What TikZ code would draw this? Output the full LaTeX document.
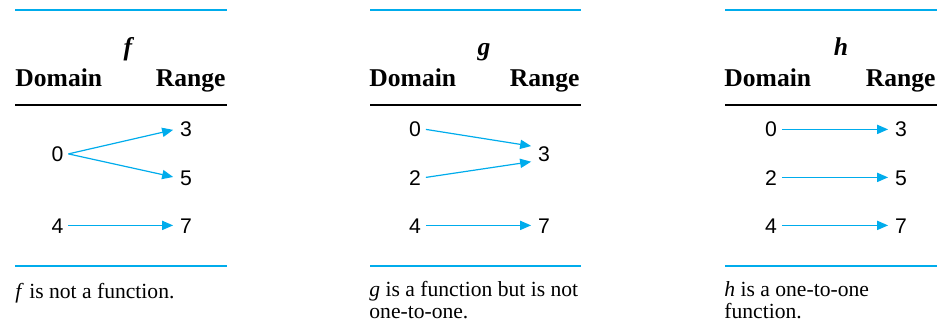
\documentclass[tikz,border=0pt]{standalone}
\usepackage{fontspec}
\setmainfont{Liberation Serif}
\newfontfamily\numfont{Liberation Sans}
\usetikzlibrary{arrows.meta}
\definecolor{rule}{RGB}{0,172,236}
\begin{document}
\begin{tikzpicture}[x=0.5pt,y=-0.5pt,
  blueline/.style={draw=rule,line width=1pt},
  blackline/.style={draw=black,line width=0.75pt},
  head/.style={font=\fontsize{12.8}{14}\selectfont\bfseries,inner sep=0pt},
  title/.style={font=\fontsize{12.8}{14}\selectfont\bfseries\itshape,inner sep=0pt,anchor=base},
  num/.style={font=\numfont\fontsize{10.6}{12}\selectfont,inner sep=0pt,text height=7.6pt,text depth=0pt,anchor=base,outer sep=2.5pt},
  caption/.style={font=\fontsize{10.8}{10}\selectfont,inner sep=0pt,anchor=base west,align=left},
  map/.style={draw=rule,line width=0.6pt,-{Triangle[length=5.5pt,width=4.6pt]},shorten >=1pt}
]
\useasboundingbox (0,0) rectangle (948,326);

% ---------- panel f ----------
\draw[blueline] (15,10) coordinate (fA) -- (227,10) coordinate (fB);
\node[title] (ft) at (128,56) {f};
\node[head,anchor=base west] (fd) at (15,87) {Domain};
\node[head,anchor=base east] (fr) at (226,87) {Range};
\draw[blackline] (15,105) coordinate (fC) -- (227,105) coordinate (fD);
\node[num] (f0) at (57.5,161.5) {0};
\node[num] (f4) at (57.5,233) {4};
\node[num] (f3) at (186,137) {3};
\node[num] (f5) at (186,185) {5};
\node[num] (f7) at (186,233) {7};
\draw[map] (f0.east) -- (f3.west);
\draw[map] (f0.east) -- (f5.west);
\draw[map] (f4.east) -- (f7.west);
\draw[blueline] (15,266) coordinate (fE) -- (227,266) coordinate (fF);
\node[caption] (fc) at (15,298) {\textit{f} is not a function.};

% ---------- panel g ----------
\draw[blueline] (370,10) coordinate (gA) -- (581,10) coordinate (gB);
\node[title] (gt) at (484,56) {g};
\node[head,anchor=base west] (gd) at (369,87) {Domain};
\node[head,anchor=base east] (gr) at (580,87) {Range};
\draw[blackline] (370,105) coordinate (gC) -- (581,105) coordinate (gD);
\node[num] (g0) at (415,137) {0};
\node[num] (g2) at (415,185) {2};
\node[num] (g4) at (415,233) {4};
\node[num] (g3) at (544,162) {3};
\node[num] (g7) at (544,233) {7};
\draw[map] (g0.east) -- ([yshift=4pt]g3.west);
\draw[map] (g2.east) -- ([yshift=-3.5pt]g3.west);
\draw[map] (g4.east) -- (g7.west);
\draw[blueline] (370,266) coordinate (gE) -- (581,266) coordinate (gF);
\node[caption] (gc) at (369,318) {\textit{g} is a function but is not\\[1pt]one-to-one.};

% ---------- panel h ----------
\draw[blueline] (725,10) coordinate (hA) -- (937,10) coordinate (hB);
\node[title] (ht) at (841,56) {h};
\node[head,anchor=base west] (hd) at (724,87) {Domain};
\node[head,anchor=base east] (hr) at (936,87) {Range};
\draw[blackline] (725,105) coordinate (hC) -- (937,105) coordinate (hD);
\node[num] (h0) at (771,137) {0};
\node[num] (h2) at (771,185) {2};
\node[num] (h4) at (771,233) {4};
\node[num] (h3) at (901,137) {3};
\node[num] (h5) at (901,185) {5};
\node[num] (h7) at (901,233) {7};
\draw[map] (h0.east) -- (h3.west);
\draw[map] (h2.east) -- (h5.west);
\draw[map] (h4.east) -- (h7.west);
\draw[blueline] (725,266) coordinate (hE) -- (937,266) coordinate (hF);
\node[caption] (hc) at (724,318) {\textit{h} is a one-to-one\\[1pt]function.};
\end{tikzpicture}
\end{document}
